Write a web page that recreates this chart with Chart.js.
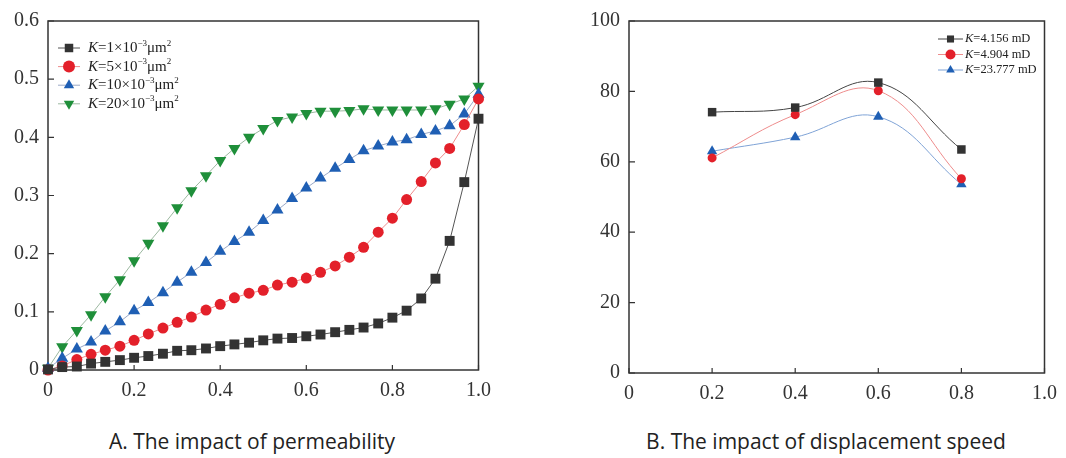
<!DOCTYPE html>
<html>
<head>
<meta charset="utf-8">
<script src="https://cdn.jsdelivr.net/npm/chart.js@4/dist/chart.umd.min.js"></script>
<style>
  body { margin: 0; background: #fff; }
  #wrap { position: relative; width: 1066px; height: 458px; }
  .box { position: absolute; top: 0; height: 400px; }
  .cap { position: absolute; top: 427px; font: 21px "Open Sans", sans-serif; color: #222; text-align: center; }
</style>
</head>
<body>
<div id="wrap">
  <div class="box" style="left:0;width:500px"><canvas id="chartA"></canvas></div>
  <div class="box" style="left:575px;width:491px"><canvas id="chartB"></canvas></div>
  <div class="cap" style="left:52px;width:400px">A. The impact of permeability</div>
  <div class="cap" style="left:626px;width:400px">B. The impact of displacement speed</div>
</div>
<script>
// --- chart A: permeability ---
const xA = [0, 0.033, 0.067, 0.1, 0.133, 0.167, 0.2, 0.233, 0.267, 0.3, 0.333,
  0.367, 0.4, 0.433, 0.467, 0.5, 0.533, 0.567, 0.6, 0.633, 0.667,
  0.7, 0.733, 0.767, 0.8, 0.833, 0.867, 0.9, 0.933, 0.967, 1.0];
const k1 = [0.001, 0.005, 0.006, 0.011, 0.014, 0.017, 0.021, 0.024, 0.028, 0.033, 0.034,
  0.037, 0.041, 0.044, 0.047, 0.051, 0.054, 0.055, 0.058, 0.061, 0.065,
  0.069, 0.073, 0.080, 0.090, 0.102, 0.123, 0.157, 0.222, 0.323, 0.432];
const k5 = [0, 0.007, 0.018, 0.027, 0.034, 0.041, 0.051, 0.062, 0.072, 0.082, 0.091,
  0.103, 0.113, 0.124, 0.132, 0.137, 0.146, 0.151, 0.158, 0.168, 0.179,
  0.194, 0.211, 0.237, 0.261, 0.293, 0.324, 0.356, 0.381, 0.422, 0.466];
const k10 = [0.003, 0.020, 0.036, 0.048, 0.067, 0.083, 0.102, 0.116, 0.133, 0.151, 0.168,
  0.185, 0.204, 0.221, 0.237, 0.257, 0.275, 0.295, 0.313, 0.330, 0.347,
  0.362, 0.377, 0.385, 0.392, 0.396, 0.405, 0.411, 0.420, 0.440, 0.474];
const k20 = [0.003, 0.040, 0.068, 0.095, 0.126, 0.155, 0.188, 0.218, 0.248, 0.279, 0.308,
  0.334, 0.360, 0.381, 0.400, 0.415, 0.429, 0.435, 0.441, 0.445, 0.445,
  0.446, 0.449, 0.447, 0.447, 0.447, 0.447, 0.449, 0.457, 0.466, 0.488];
const labelsA = ["K=1×10⁻³μm²", "K=5×10⁻³μm²", "K=10×10⁻³μm²", "K=20×10⁻³μm²"];
const xTicksA = [0, 0.2, 0.4, 0.6, 0.8, 1.0];
const yTicksA = [0, 0.1, 0.2, 0.3, 0.4, 0.5, 0.6];

// --- chart B: displacement speed ---
const xB = [0.2, 0.4, 0.6, 0.8];
const kd4156 = [74.1, 75.4, 82.5, 63.5];
const kd4904 = [61.1, 73.4, 80.2, 55.2];
const kd23777 = [63.0, 67.0, 72.8, 53.6];
const labelsB = ["K=4.156 mD", "K=4.904 mD", "K=23.777 mD"];
const xTicksB = [0, 0.2, 0.4, 0.6, 0.8, 1.0];
const yTicksB = [0, 20, 40, 60, 80, 100];

const serif = '"Liberation Serif", "Times New Roman", serif';
const axisColor = "#333";

function pts(xs, ys) {
  return xs.map((x, i) => ({ x: x, y: ys[i] }));
}

function fmt(v) {
  return v === 0 ? "0" : (Number.isInteger(v) && v > 1 ? String(v) : v.toFixed(1));
}

// box round the plot + inward tick marks
const framePlugin = {
  id: "frame",
  beforeDatasetsDraw(chart) {
    const { ctx, chartArea: a, scales } = chart;
    ctx.save();
    ctx.strokeStyle = axisColor;
    ctx.lineWidth = 1.5;
    ctx.strokeRect(a.left, a.top, a.right - a.left, a.bottom - a.top);
    ctx.lineWidth = 1.2;
    ctx.beginPath();
    scales.x.ticks.forEach(t => {
      const px = scales.x.getPixelForValue(t.value);
      ctx.moveTo(px, a.bottom);
      ctx.lineTo(px, a.bottom - 5);
    });
    scales.y.ticks.forEach(t => {
      const py = scales.y.getPixelForValue(t.value);
      ctx.moveTo(a.left, py);
      ctx.lineTo(a.left + 6, py);
    });
    ctx.stroke();
    ctx.restore();
  }
};

function marker(ctx, style, x, y, r) {
  ctx.beginPath();
  if (style === "rect") {
    const s = r * Math.SQRT1_2;
    ctx.rect(x - s, y - s, 2 * s, 2 * s);
  } else if (style === "circle") {
    ctx.arc(x, y, r, 0, Math.PI * 2);
  } else {
    const dir = style === "down" ? -1 : 1;
    ctx.moveTo(x, y - dir * r);
    ctx.lineTo(x - r * 0.866, y + dir * r * 0.5);
    ctx.lineTo(x + r * 0.866, y + dir * r * 0.5);
    ctx.closePath();
  }
  ctx.fill();
}

const supMap = { "⁻": "−", "³": "3", "²": "2" };

// legend with line-marker-line and italic K
const legendPlugin = {
  id: "markLegend",
  afterDraw(chart, args, o) {
    const { ctx, chartArea: a } = chart;
    ctx.save();
    ctx.textBaseline = "middle";
    chart.data.datasets.forEach((ds, i) => {
      const y = a.top + o.top + i * o.gap;
      const x0 = a.left + o.left;
      ctx.strokeStyle = ds.borderColor;
      ctx.lineWidth = 1;
      ctx.beginPath();
      ctx.moveTo(x0, y);
      ctx.lineTo(x0 + o.lineLen, y);
      ctx.stroke();
      ctx.fillStyle = ds.pointBackgroundColor;
      const st = ds.rotation === 180 ? "down" : ds.pointStyle;
      marker(ctx, st, x0 + o.lineLen / 2, y, o.radius);
      let x = x0 + o.lineLen + o.textGap;
      ctx.fillStyle = "#222";
      for (const ch of ds.label) {
        if (ch === "K") {
          ctx.font = "italic " + o.size + "px " + serif;
          ctx.fillText(ch, x, y);
          x += ctx.measureText(ch).width;
        } else if (supMap[ch]) {
          ctx.font = Math.round(o.size * 0.62) + "px " + serif;
          ctx.fillText(supMap[ch], x, y - o.size * 0.32);
          x += ctx.measureText(supMap[ch]).width;
        } else {
          ctx.font = o.size + "px " + serif;
          ctx.fillText(ch, x, y);
          x += ctx.measureText(ch).width;
        }
      }
    });
    ctx.restore();
  }
};

function axis(min, max, tickList, fitKey, fitVal) {
  return {
    type: "linear",
    min: min,
    max: max,
    afterBuildTicks: s => { s.ticks = tickList.map(v => ({ value: v })); },
    afterFit: s => { s[fitKey] = fitVal; },
    grid: { display: false, drawTicks: false },
    border: { display: false },
    ticks: {
      color: axisColor,
      padding: 9,
      font: { family: serif, size: 20 },
      callback: v => fmt(v)
    }
  };
}

const common = {
  responsive: true,
  maintainAspectRatio: false,
  animation: false,
  plugins: { legend: { display: false }, tooltip: { enabled: false } }
};

function seriesA(label, ys, color, line, style, r, rot) {
  return {
    label: label,
    data: pts(xA, ys),
    borderColor: line,
    borderWidth: 1,
    pointStyle: style,
    rotation: rot || 0,
    pointRadius: r,
    pointBackgroundColor: color,
    pointBorderWidth: 0,
    tension: 0,
    clip: false
  };
}

new Chart(document.getElementById("chartA"), {
  type: "line",
  data: {
    datasets: [
      seriesA(labelsA[0], k1, "#333333", "#555555", "rect", 7),
      seriesA(labelsA[1], k5, "#e3202a", "#ee8c8c", "circle", 5.5),
      seriesA(labelsA[2], k10, "#1f5fb4", "#9aa8c6", "triangle", 7),
      seriesA(labelsA[3], k20, "#1f8f3a", "#9cb8a0", "triangle", 7, 180)
    ]
  },
  options: {
    ...common,
    layout: { padding: { top: 16, right: 19, left: 0, bottom: 0 } },
    scales: {
      x: axis(0, 1.0, xTicksA, "height", 30),
      y: axis(0, 0.6, yTicksA, "width", 48)
    },
    plugins: {
      ...common.plugins,
      markLegend: { left: 10, top: 27, gap: 18.6, lineLen: 22, textGap: 8, size: 15, radius: 6 }
    }
  },
  plugins: [framePlugin, legendPlugin]
});

function seriesB(label, ys, color, line, style, r) {
  return {
    label: label,
    data: pts(xB, ys),
    borderColor: line,
    borderWidth: 1,
    pointStyle: style,
    pointRadius: r,
    pointBackgroundColor: color,
    pointBorderWidth: 0,
    tension: 0.4,
    clip: false
  };
}

new Chart(document.getElementById("chartB"), {
  type: "line",
  data: {
    datasets: [
      seriesB(labelsB[0], kd4156, "#333333", "#444444", "rect", 6),
      seriesB(labelsB[1], kd4904, "#e3202a", "#ee8c8c", "circle", 4.5),
      seriesB(labelsB[2], kd23777, "#1f5fb4", "#7fa3d6", "triangle", 6)
    ]
  },
  options: {
    ...common,
    layout: { padding: { top: 19, right: 13, left: 0, bottom: 0 } },
    scales: {
      x: axis(0, 1.0, xTicksB, "height", 27),
      y: axis(0, 100, yTicksB, "width", 54)
    },
    plugins: {
      ...common.plugins,
      markLegend: { left: 309, top: 18, gap: 15.5, lineLen: 25, textGap: 2, size: 12.5, radius: 5 }
    }
  },
  plugins: [framePlugin, legendPlugin]
});
</script>
</body>
</html>
